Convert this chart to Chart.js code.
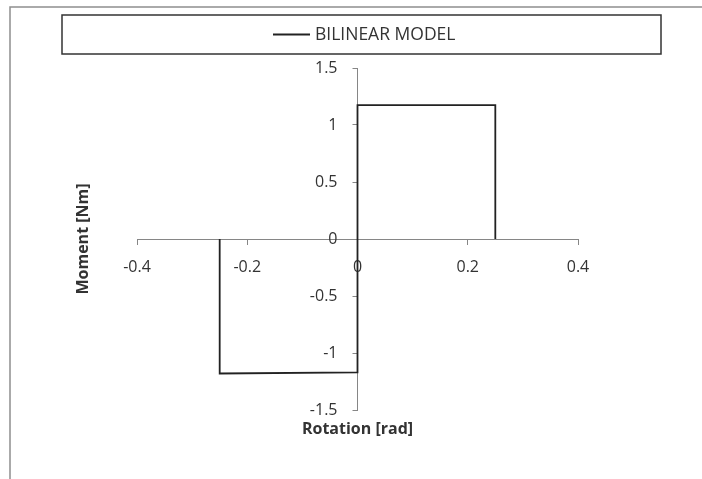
<!DOCTYPE html>
<html>
<head>
<meta charset="utf-8">
<script src="https://cdn.jsdelivr.net/npm/chart.js@4.4.1/dist/chart.umd.min.js"></script>
<style>
  html, body { margin: 0; padding: 0; background: #fff; }
  canvas { display: block; }
</style>
</head>
<body>
<canvas id="chart" width="702" height="479"></canvas>
<script>
// values
const rotation = [-0.25, -0.25, 0, 0, 0.25, 0.25]
const moment = [0, -1.18, -1.17, 1.175, 1.175, 0]
const seriesLabel = 'BILINEAR MODEL'
const xTicks = [-0.4, -0.2, 0, 0.2, 0.4]
const yTicks = [-1.5, -1, -0.5, 0, 0.5, 1, 1.5]
const xTitle = 'Rotation [rad]'
const yTitle = 'Moment [Nm]'

const FONT = 'Open Sans'
const AXIS_GRAY = '#868686'
const TEXT = '#333333'

const fmt = (v) => String(Number(v.toFixed(2)))

// excel-like frame, legend box and axis titles
const decorations = {
  id: 'decorations',
  afterLayout(chart) {
    // put the y axis where x = 0, like excel does
    // (left kept wide open so the label clip area doesn't hide the labels)
    const y = chart.scales.y
    const px = chart.scales.x.getPixelForValue(0)
    y.left = 0
    y.right = px
  },
  beforeDraw(chart) {
    const { ctx, width, height } = chart
    ctx.save()
    ctx.fillStyle = '#fff'
    ctx.fillRect(0, 0, width, height)
    ctx.strokeStyle = '#8f8f8f'
    ctx.lineWidth = 1.5
    ctx.beginPath()
    ctx.moveTo(10, height)
    ctx.lineTo(10, 7)
    ctx.lineTo(width, 7)
    ctx.stroke()
    ctx.restore()
  },
  afterDraw(chart) {
    const { ctx, chartArea } = chart
    const ds = chart.data.datasets[0]
    ctx.save()
    // legend
    ctx.strokeStyle = '#333'
    ctx.lineWidth = 1.5
    ctx.strokeRect(62, 15, 599, 39)
    ctx.strokeStyle = ds.borderColor
    ctx.lineWidth = ds.borderWidth
    ctx.beginPath()
    ctx.moveTo(273, 34.5)
    ctx.lineTo(310, 34.5)
    ctx.stroke()
    ctx.fillStyle = TEXT
    ctx.font = `17.5px "${FONT}"`
    ctx.textBaseline = 'middle'
    ctx.textAlign = 'left'
    ctx.fillText(ds.label, 315, 35)

    // axis titles
    const cx = (chartArea.left + chartArea.right) / 2
    const cy = (chartArea.top + chartArea.bottom) / 2
    ctx.font = `bold 16px "${FONT}"`
    ctx.textAlign = 'center'
    ctx.fillText(xTitle, cx, chartArea.bottom + 19)
    ctx.translate(83, cy)
    ctx.rotate(-Math.PI / 2)
    ctx.fillText(yTitle, 0, 0)
    ctx.restore()
  }
}

const tickFont = { family: FONT, size: 16 }

new Chart(document.getElementById('chart'), {
  type: 'scatter',
  data: {
    datasets: [{
      label: seriesLabel,
      data: rotation.map((x, i) => ({ x, y: moment[i] })),
      showLine: true,
      borderColor: '#222',
      borderWidth: 1.8,
      pointRadius: 0,
      fill: false,
      tension: 0
    }]
  },
  options: {
    responsive: false,
    animation: false,
    layout: { padding: { left: 137, right: 124, top: 68, bottom: 69 } },
    plugins: {
      legend: { display: false },
      tooltip: { enabled: false }
    },
    scales: {
      x: {
        type: 'linear',
        min: -0.4,
        max: 0.4,
        position: { y: 0 },
        afterBuildTicks: (s) => { s.ticks = xTicks.map(value => ({ value })) },
        afterFit: (s) => { s.height = 0 },
        grid: { drawOnChartArea: false, drawTicks: true, tickLength: 5, color: AXIS_GRAY },
        border: { color: AXIS_GRAY, width: 1 },
        ticks: { padding: 14, color: TEXT, font: tickFont, maxRotation: 0, autoSkip: false, callback: fmt }
      },
      y: {
        type: 'linear',
        min: -1.5,
        max: 1.5,
        position: 'left',
        afterBuildTicks: (s) => { s.ticks = yTicks.map(value => ({ value })) },
        afterFit: (s) => { s.width = 0 },
        grid: { drawOnChartArea: false, drawTicks: true, tickLength: 5, color: AXIS_GRAY },
        border: { color: AXIS_GRAY, width: 1 },
        ticks: { padding: 15, color: TEXT, font: tickFont, autoSkip: false, callback: fmt }
      }
    }
  },
  plugins: [decorations]
})
</script>
</body>
</html>
